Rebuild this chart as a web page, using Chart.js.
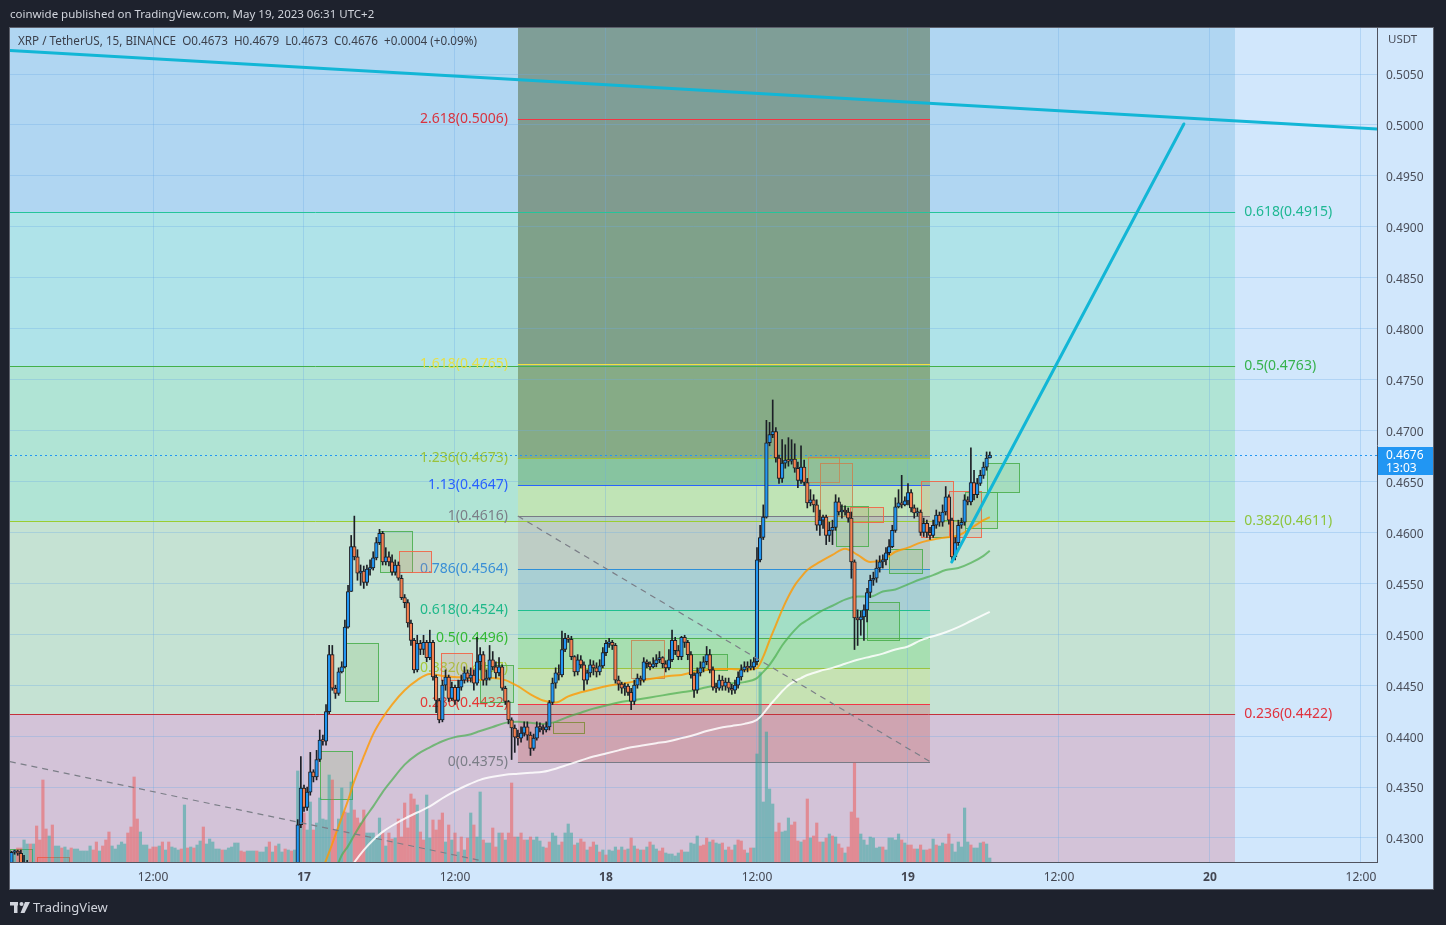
<!DOCTYPE html>
<html>
<head>
<meta charset="utf-8">
<title>XRP / TetherUS, 15, BINANCE</title>
<script src="https://cdn.jsdelivr.net/npm/chart.js@4.4.1/dist/chart.umd.min.js"></script>
<style>
  html, body { margin: 0; padding: 0; background: #1e222d; }
  #wrap { width: 1446px; height: 925px; }
</style>
</head>
<body>
<div id="wrap"><canvas id="chart" width="1446" height="925"></canvas></div>
<script>
// x = bar index, one bar per 15 minutes counted from 16 May 2023 00:00 (UTC+2)
const VIEW_START = 2.54;    // 16 May 00:38
const VIEW_END = 437.1;     // 20 May 13:16
const timeTicks = [48, 96, 144, 192, 240, 288, 336, 384, 432];
const timeLabels = ['12:00', '17', '12:00', '18', '12:00', '19', '12:00', '20', '12:00'];

const PRICE_MIN = 0.42764;
const PRICE_MAX = 0.50952;
const priceTicks = [0.4300, 0.4350, 0.4400, 0.4450, 0.4500, 0.4550, 0.4600, 0.4650,
  0.4700, 0.4750, 0.4800, 0.4850, 0.4900, 0.4950, 0.5000, 0.5050];

// a few bars of 16 May that peek in at the bottom left
const EARLY_START = 3;
const earlyOpens  = [0.4270, 0.4286, 0.4287, 0.4285, 0.4270, 0.4266, 0.4264];
const earlyHighs  = [0.4287, 0.4288, 0.4288, 0.4288, 0.4283, 0.4278, 0.4275];
const earlyLows   = [0.4268, 0.4284, 0.4283, 0.4265, 0.4262, 0.4260, 0.4258];
const earlyCloses = [0.4286, 0.4287, 0.4285, 0.4270, 0.4266, 0.4264, 0.4262];

// bars from 16 May 23:30 to 19 May 06:30
const CANDLE_START = 94;
const opens = [
  0.4259,0.4313,0.4349,0.4330,0.4345,0.4365,0.4360,0.4377,0.4396,0.4395,
  0.4424,0.4480,0.4447,0.4442,0.4463,0.4468,0.4507,0.4542,0.4586,0.4576,
  0.4560,0.4562,0.4551,0.4564,0.4565,0.4575,0.4590,0.4599,0.4571,0.4576,
  0.4571,0.4561,0.4568,0.4555,0.4536,0.4531,0.4511,0.4494,0.4465,0.4491,
  0.4485,0.4492,0.4477,0.4492,0.4458,0.4435,0.4416,0.4450,0.4458,0.4437,
  0.4448,0.4435,0.4448,0.4455,0.4462,0.4457,0.4460,0.4452,0.4473,0.4480,
  0.4455,0.4457,0.4475,0.4468,0.4462,0.4468,0.4447,0.4434,0.4416,0.4408,
  0.4399,0.4398,0.4403,0.4409,0.4401,0.4388,0.4398,0.4409,0.4408,0.4406,
  0.4409,0.4433,0.4452,0.4462,0.4460,0.4485,0.4496,0.4495,0.4478,0.4463,
  0.4475,0.4470,0.4455,0.4462,0.4470,0.4467,0.4463,0.4469,0.4482,0.4491,
  0.4492,0.4489,0.4455,0.4451,0.4447,0.4449,0.4443,0.4434,0.4450,0.4457,
  0.4455,0.4473,0.4471,0.4468,0.4471,0.4475,0.4477,0.4471,0.4467,0.4475,
  0.4494,0.4484,0.4478,0.4497,0.4492,0.4480,0.4460,0.4445,0.4462,0.4467,
  0.4473,0.4480,0.4465,0.4448,0.4447,0.4455,0.4449,0.4453,0.4447,0.4445,
  0.4450,0.4458,0.4465,0.4468,0.4467,0.4468,0.4473,0.4573,0.4595,0.4615,
  0.4688,0.4696,0.4699,0.4673,0.4653,0.4668,0.4671,0.4670,0.4672,0.4663,
  0.4651,0.4664,0.4649,0.4629,0.4632,0.4627,0.4607,0.4612,0.4615,0.4597,
  0.4602,0.4605,0.4630,0.4620,0.4622,0.4620,0.4614,0.4571,0.4516,0.4514,
  0.4517,0.4524,0.4541,0.4553,0.4555,0.4565,0.4571,0.4573,0.4580,0.4586,
  0.4602,0.4625,0.4629,0.4627,0.4631,0.4639,0.4624,0.4619,0.4620,0.4600,
  0.4609,0.4600,0.4597,0.4607,0.4617,0.4610,0.4620,0.4635,0.4612,0.4576,
  0.4590,0.4607,0.4610,0.4632,0.4630,0.4649,0.4637,0.4648,0.4656,0.4664,
  0.4673];
const highs = [
  0.4318,0.4380,0.4352,0.4350,0.4384,0.4367,0.4386,0.4406,0.4401,0.4431,
  0.4489,0.4489,0.4450,0.4467,0.4473,0.4514,0.4548,0.4597,0.4616,0.4583,
  0.4568,0.4567,0.4568,0.4573,0.4581,0.4595,0.4603,0.4601,0.4585,0.4581,
  0.4578,0.4573,0.4571,0.4558,0.4539,0.4534,0.4514,0.4496,0.4499,0.4494,
  0.4499,0.4494,0.4504,0.4494,0.4460,0.4437,0.4455,0.4465,0.4460,0.4453,
  0.4450,0.4455,0.4460,0.4468,0.4465,0.4467,0.4465,0.4497,0.4487,0.4483,
  0.4465,0.4489,0.4483,0.4473,0.4477,0.4470,0.4449,0.4435,0.4418,0.4411,
  0.4406,0.4409,0.4414,0.4414,0.4404,0.4402,0.4414,0.4413,0.4411,0.4414,
  0.4435,0.4457,0.4467,0.4470,0.4503,0.4501,0.4499,0.4498,0.4479,0.4480,
  0.4479,0.4473,0.4465,0.4475,0.4474,0.4472,0.4475,0.4487,0.4494,0.4496,
  0.4494,0.4491,0.4459,0.4453,0.4452,0.4451,0.4447,0.4455,0.4461,0.4459,
  0.4477,0.4475,0.4473,0.4477,0.4480,0.4483,0.4478,0.4474,0.4485,0.4504,
  0.4497,0.4489,0.4498,0.4499,0.4494,0.4483,0.4462,0.4467,0.4473,0.4478,
  0.4488,0.4485,0.4468,0.4452,0.4460,0.4459,0.4457,0.4457,0.4451,0.4455,
  0.4463,0.4470,0.4473,0.4473,0.4475,0.4477,0.4585,0.4607,0.4627,0.4710,
  0.4708,0.4730,0.4703,0.4676,0.4691,0.4686,0.4693,0.4691,0.4687,0.4669,
  0.4685,0.4671,0.4653,0.4642,0.4637,0.4632,0.4622,0.4617,0.4617,0.4610,
  0.4612,0.4637,0.4634,0.4627,0.4626,0.4624,0.4620,0.4573,0.4524,0.4523,
  0.4529,0.4545,0.4558,0.4561,0.4573,0.4577,0.4578,0.4585,0.4593,0.4607,
  0.4634,0.4642,0.4656,0.4635,0.4648,0.4642,0.4627,0.4624,0.4622,0.4614,
  0.4612,0.4605,0.4612,0.4622,0.4620,0.4627,0.4645,0.4637,0.4614,0.4595,
  0.4612,0.4614,0.4637,0.4635,0.4683,0.4661,0.4653,0.4661,0.4669,0.4679,
  0.4679];
const lows = [
  0.4259,0.4310,0.4326,0.4327,0.4342,0.4355,0.4357,0.4375,0.4391,0.4391,
  0.4422,0.4445,0.4437,0.4440,0.4462,0.4467,0.4506,0.4542,0.4573,0.4553,
  0.4548,0.4545,0.4548,0.4558,0.4563,0.4573,0.4588,0.4568,0.4568,0.4567,
  0.4558,0.4558,0.4553,0.4534,0.4526,0.4507,0.4489,0.4462,0.4463,0.4480,
  0.4480,0.4473,0.4475,0.4455,0.4423,0.4413,0.4414,0.4445,0.4434,0.4435,
  0.4431,0.4434,0.4445,0.4452,0.4453,0.4453,0.4445,0.4450,0.4465,0.4450,
  0.4450,0.4455,0.4465,0.4457,0.4459,0.4445,0.4431,0.4412,0.4377,0.4384,
  0.4391,0.4394,0.4400,0.4396,0.4381,0.4386,0.4396,0.4404,0.4402,0.4404,
  0.4406,0.4431,0.4447,0.4455,0.4458,0.4483,0.4492,0.4475,0.4459,0.4460,
  0.4467,0.4445,0.4451,0.4458,0.4460,0.4458,0.4460,0.4467,0.4479,0.4487,
  0.4485,0.4452,0.4445,0.4442,0.4440,0.4440,0.4426,0.4431,0.4447,0.4450,
  0.4453,0.4467,0.4465,0.4467,0.4468,0.4472,0.4467,0.4463,0.4465,0.4473,
  0.4480,0.4475,0.4475,0.4487,0.4475,0.4457,0.4438,0.4442,0.4459,0.4463,
  0.4470,0.4462,0.4445,0.4443,0.4445,0.4445,0.4445,0.4443,0.4441,0.4442,
  0.4447,0.4455,0.4463,0.4463,0.4465,0.4465,0.4470,0.4571,0.4593,0.4614,
  0.4685,0.4693,0.4669,0.4648,0.4649,0.4663,0.4665,0.4667,0.4659,0.4644,
  0.4648,0.4646,0.4624,0.4626,0.4620,0.4602,0.4597,0.4604,0.4588,0.4591,
  0.4588,0.4602,0.4617,0.4614,0.4617,0.4610,0.4555,0.4485,0.4489,0.4499,
  0.4494,0.4512,0.4536,0.4548,0.4551,0.4561,0.4565,0.4568,0.4578,0.4585,
  0.4600,0.4624,0.4624,0.4626,0.4627,0.4620,0.4614,0.4616,0.4597,0.4596,
  0.4595,0.4593,0.4595,0.4604,0.4606,0.4606,0.4617,0.4608,0.4571,0.4573,
  0.4587,0.4604,0.4607,0.4627,0.4627,0.4632,0.4634,0.4646,0.4653,0.4661,
  0.4673];
const closes = [
  0.4313,0.4349,0.4330,0.4345,0.4365,0.4360,0.4377,0.4396,0.4395,0.4424,
  0.4480,0.4447,0.4442,0.4463,0.4468,0.4507,0.4542,0.4586,0.4576,0.4560,
  0.4562,0.4551,0.4564,0.4565,0.4575,0.4590,0.4599,0.4571,0.4576,0.4571,
  0.4561,0.4568,0.4555,0.4536,0.4531,0.4511,0.4494,0.4465,0.4491,0.4485,
  0.4492,0.4477,0.4492,0.4458,0.4435,0.4416,0.4450,0.4458,0.4437,0.4448,
  0.4435,0.4448,0.4455,0.4462,0.4457,0.4460,0.4452,0.4473,0.4480,0.4455,
  0.4457,0.4475,0.4468,0.4462,0.4468,0.4447,0.4434,0.4416,0.4408,0.4399,
  0.4398,0.4403,0.4409,0.4401,0.4388,0.4398,0.4409,0.4408,0.4406,0.4409,
  0.4433,0.4452,0.4462,0.4460,0.4485,0.4496,0.4495,0.4478,0.4463,0.4475,
  0.4470,0.4455,0.4462,0.4470,0.4467,0.4463,0.4469,0.4482,0.4491,0.4492,
  0.4489,0.4455,0.4451,0.4447,0.4449,0.4443,0.4434,0.4450,0.4457,0.4455,
  0.4473,0.4471,0.4468,0.4471,0.4475,0.4477,0.4471,0.4467,0.4475,0.4494,
  0.4484,0.4478,0.4497,0.4492,0.4480,0.4460,0.4445,0.4462,0.4467,0.4473,
  0.4480,0.4465,0.4448,0.4447,0.4455,0.4449,0.4453,0.4447,0.4445,0.4450,
  0.4458,0.4465,0.4468,0.4467,0.4468,0.4473,0.4573,0.4595,0.4615,0.4688,
  0.4696,0.4699,0.4673,0.4653,0.4668,0.4671,0.4670,0.4672,0.4663,0.4651,
  0.4664,0.4649,0.4629,0.4632,0.4627,0.4607,0.4612,0.4615,0.4597,0.4602,
  0.4605,0.4630,0.4620,0.4622,0.4620,0.4614,0.4571,0.4516,0.4514,0.4517,
  0.4524,0.4541,0.4553,0.4555,0.4565,0.4571,0.4573,0.4580,0.4586,0.4602,
  0.4625,0.4629,0.4627,0.4631,0.4639,0.4624,0.4619,0.4620,0.4600,0.4609,
  0.4600,0.4597,0.4607,0.4617,0.4610,0.4620,0.4635,0.4612,0.4576,0.4590,
  0.4607,0.4610,0.4632,0.4630,0.4649,0.4637,0.4648,0.4656,0.4664,0.4673,
  0.4676];

// volume in millions of XRP per bar, and whether the bar closed up (u) or down (d)
const VOL_START = 3;
const VOL_MAX = 83.4;
const volumes = [
  1.0,1.2,1.4,1.4,2.2,1.8,1.8,1.8,3.6,2.2,
  8.2,3.3,2.6,3.7,1.6,1.6,1.4,1.5,1.2,1.4,
  1.3,1.3,1.1,1.1,1.1,1.6,1.2,2.0,1.1,1.6,
  2.2,3.0,1.6,1.3,1.7,2.0,1.8,2.9,3.5,8.5,
  4.3,3.0,1.7,1.7,1.3,1.5,1.5,1.6,2.0,1.2,
  2.0,1.5,1.4,1.2,1.3,5.7,1.4,1.5,1.4,1.7,
  2.1,3.5,1.8,2.3,2.0,1.3,1.3,1.2,1.2,1.4,
  1.5,1.9,1.9,1.1,1.0,1.1,1.1,1.1,1.1,1.0,
  1.0,1.5,2.0,1.0,1.6,1.8,1.0,1.3,1.2,1.1,
  1.2,9.1,7.5,4.9,3.2,6.0,3.2,3.9,6.4,4.3,
  4.2,8.7,8.2,3.2,4.3,7.4,5.0,4.9,8.0,5.2,
  4.4,3.9,5.2,2.9,2.9,2.9,2.4,4.4,2.9,1.6,
  2.9,2.3,2.4,4.3,2.5,5.9,3.4,6.8,6.3,5.7,
  3.0,2.2,6.7,2.4,4.2,3.2,4.2,4.9,2.0,3.7,
  2.2,2.9,1.0,2.5,1.2,2.4,4.9,3.7,2.5,7.0,
  2.2,1.9,1.9,3.4,1.5,2.9,2.9,2.2,2.9,7.9,
  2.5,2.5,2.9,2.2,2.2,2.5,2.2,2.5,2.1,1.5,
  1.4,2.0,2.9,2.6,1.7,2.0,2.9,3.8,2.9,1.7,
  1.9,2.3,2.0,1.2,1.5,2.0,1.7,1.0,1.2,0.7,
  1.2,1.1,1.5,1.2,1.5,1.2,1.3,2.4,1.6,1.3,
  1.2,1.2,1.5,2.0,1.7,1.3,1.1,1.4,0.9,0.8,
  0.8,0.6,0.9,1.2,1.0,1.0,1.9,1.8,2.6,1.6,
  1.7,2.4,2.0,2.2,1.9,1.8,1.9,1.2,1.5,1.2,
  1.7,2.2,2.1,1.2,0.9,1.4,1.4,10.8,19.0,6.0,
  13.0,7.3,5.8,3.0,3.9,3.0,3.1,4.4,3.7,4.0,
  2.1,2.0,2.2,6.3,2.4,2.6,3.9,2.0,2.0,2.4,
  2.8,2.6,2.5,1.8,1.4,0.9,1.5,5.0,9.9,4.4,
  2.8,2.2,1.7,2.5,2.4,1.4,1.5,1.5,1.2,2.4,
  2.4,2.2,2.8,2.2,1.9,1.7,1.7,1.3,1.3,1.7,
  1.2,1.2,1.3,2.3,1.7,1.6,1.9,1.8,2.8,1.8,
  1.0,2.0,1.5,5.4,2.0,1.7,1.4,1.4,1.9,2.0,
  1.8,0.4];
const volumeSide = [
  'uudduududd','dduduuduud','uuuuuuddud','dduuuuuddd','duuudddudu',
  'duuudududu','uduuuuuduu','uuudduuudu','uududuudud','uuuduuduuu',
  'uudduuduud','ddduuuuudu','dduddddddu','dduuddddud','ududududuu',
  'duuddududd','dudduduuuu','dduuuduuud','udduddudud','uuudududud',
  'ududuudduu','uuuduuuuud','dduduududd','uddduduuuu','uuudduuudd',
  'duddudddud','ududdudddd','uuuuuuuduu','uuududddud','udduduuddu',
  'uuuuuduuud','uu'].join('');

// moving averages, read at these bar indexes
const maBars = [100,104,106,108,110,112,115,118,121,124,
  128,132,136,140,144,148,152,156,160,164,168,172,176,180,184,188,192,196,200,204,
  208,212,216,220,224,228,232,236,
  240,242,244,246,248,250,252,254,256,
  260,264,268,272,276,280,284,288,292,296,300,304,308,312,314];
const maFast = [0.4255,0.4286,0.4303,0.4320,0.4337,0.4356,0.4380,0.4402,0.4418,0.4431,
  0.4445,0.4455,0.4461,0.4459,0.4458,0.4457,0.4455,0.4457,0.4455,0.4449,0.4441,0.4435,0.4433,0.4439,0.4443,0.4446,0.4449,0.4451,0.4453,0.4455,
  0.4457,0.4459,0.4460,0.4463,0.4465,0.4466,0.4466,0.4465,
  0.4467,0.4478,0.4494,0.4509,0.4524,0.4537,0.4548,0.4556,0.4563,
  0.4571,0.4578,0.4584,0.4578,0.4571,0.4573,0.4581,0.4585,0.4590,0.4593,0.4595,0.4597,0.4604,0.4612,0.4615];
const maMid = [null,0.4261,0.4269,0.4283,0.4292,0.4303,0.4318,0.4331,0.4345,0.4357,
  0.4372,0.4382,0.4389,0.4395,0.4399,0.4401,0.4405,0.4409,0.4413,0.4414,0.4413,0.4412,0.4414,0.4419,0.4423,0.4427,0.4430,0.4433,0.4435,0.4437,
  0.4439,0.4441,0.4443,0.4445,0.4448,0.4450,0.4452,0.4453,
  0.4457,0.4463,0.4470,0.4479,0.4489,0.4497,0.4504,0.4510,0.4514,
  0.4522,0.4528,0.4534,0.4537,0.4537,0.4542,0.4544,0.4549,0.4554,0.4558,0.4563,0.4565,0.4570,0.4577,0.4582];
const maSlow = [null,null,null,null,0.4267,0.4276,0.4288,0.4298,0.4306,0.4312,
  0.4319,0.4325,0.4331,0.4339,0.4346,0.4352,0.4357,0.4360,0.4362,0.4363,0.4364,0.4365,0.4368,0.4372,0.4376,0.4380,0.4383,0.4386,0.4389,0.4391,
  0.4393,0.4395,0.4398,0.4401,0.4405,0.4408,0.4410,0.4412,
  0.4416,0.4422,0.4430,0.4437,0.4444,0.4450,0.4454,0.4457,0.4460,
  0.4464,0.4467,0.4471,0.4475,0.4478,0.4481,0.4485,0.4488,0.4494,0.4498,0.4502,0.4507,0.4513,0.4519,0.4522];

// fib retracement (left, long) and fib extension (middle)
const retLevels = [0, 0.236, 0.382, 0.5, 0.618, 0.786];
const retPrices = [0.4119, 0.4422, 0.4611, 0.4763, 0.4915, 0.5131];
const retBars = [0, 392];
const extLevels = [0, 0.236, 0.382, 0.5, 0.618, 0.786, 1, 1.13, 1.236, 1.618, 2.618, 3.618];
const extPrices = [0.4375, 0.4432, 0.4467, 0.4496, 0.4524, 0.4564, 0.4616, 0.4647, 0.4673, 0.4765, 0.5006, 0.5247];
const extBars = [164, 295];

// drawn lines: [bar, price] at both ends
const resistanceLine = [[2.5, 0.5073], [437.1, 0.4996]];
const targetLine = [[301.9, 0.4571], [375.7, 0.5001]];
const oldTrendLine = [[2.5, 0.4375], [152, 0.4278]];
const extTrendLine = [[164, 0.4616], [295, 0.4375]];

// rectangles: first bar, last bar, top price, bottom price, kind
const boxes = [
  [101.1, 111.3, 0.4385, 0.4338, 'g'], [109.0, 119.5, 0.4491, 0.4434, 'g'],
  [120.2, 130.3, 0.4601, 0.4561, 'g'], [126.2, 136.4, 0.4582, 0.4561, 'r'],
  [139.5, 149.4, 0.4482, 0.4455, 'r'], [151.9, 162.4, 0.4470, 0.4433, 'g'],
  [175.1, 185.0, 0.4414, 0.4403, 'o'], [200.0, 210.4, 0.4494, 0.4457, 't'],
  [219.0, 230.4, 0.4481, 0.4465, 'g'], [256.2, 266.0, 0.4674, 0.4649, 't'],
  [260.0, 270.2, 0.4668, 0.4616, 't'], [265.0, 275.3, 0.4626, 0.4587, 'g'],
  [269.5, 280.0, 0.4625, 0.4610, 'r'], [275.0, 285.0, 0.4532, 0.4494, 'g'],
  [282.0, 292.4, 0.4584, 0.4560, 'g'], [292.1, 302.3, 0.4650, 0.4595, 'r'],
  [296.0, 306.1, 0.4612, 0.4595, 'g'], [301.0, 311.2, 0.4641, 0.4595, 'r'],
  [306.1, 316.3, 0.4640, 0.4604, 'g'], [313.1, 323.3, 0.4668, 0.4640, 'g'],
  [2.5, 9.5, 0.4289, 0.4260, 'g'], [11.1, 21.3, 0.4281, 0.4255, 'r'],
];

const lastPrice = 0.4676;
const barCountdown = '13:03';
const publishedText = 'coinwide published on TradingView.com, May 19, 2023 06:31 UTC+2';
const legendText = 'XRP / TetherUS, 15, BINANCE  O0.4673  H0.4679  L0.4673  C0.4676  +0.0004 (+0.09%)';

// ---- styles ----
const FONT = '"Noto Sans", "Open Sans", sans-serif';
const FRAME_BG = '#1e222d';
const PANEL_BG = '#d1e7fc';
const UP = '#2196f3', DOWN = '#f5804f', CANDLE_EDGE = '#1c1f26';
const VOL_UP = 'rgba(38,166,154,0.5)', VOL_DOWN = 'rgba(239,83,80,0.5)';
const GRID = 'rgba(110,170,230,0.32)';
const RET_FILL = ['#d3c3d8', '#c5e2d3', '#b0e4d5', '#afe3e9', '#b0d6f2'];
const RET_LINE = ['#787b86', '#c4313b', '#9acd32', '#43b04a', '#25c49a', '#2196f3'];
const RET_TEXT = ['#787b86', '#e0323e', '#8dc53e', '#37b24d', '#1fb893', '#2196f3'];
const EXT_FILL = ['rgba(203,133,138,0.5)', 'rgba(199,226,147,0.5)', 'rgba(137,220,143,0.5)',
  'rgba(129,220,185,0.5)', 'rgba(141,188,211,0.5)', 'rgba(183,184,183,0.5)', 'rgba(208,228,151,0.5)',
  'rgba(94,164,107,0.5)', 'rgba(92,114,55,0.5)', 'rgba(80,95,44,0.5)', 'rgba(78,102,60,0.5)'];
const EXT_LINE = ['#787b86', '#f23645', '#9bc43e', '#4caf50', '#1fbf8f', '#2e8fd8', '#787b86',
  '#2962ff', '#a0c43a', '#f0e040', '#f23645', '#9c27b0'];
const EXT_TEXT = ['#7b7e87', '#e53935', '#a5c93a', '#33b833', '#1fb88a', '#3a8fd6', '#7b7e87',
  '#2962ff', '#9ac23c', '#e6e04a', '#d8333f', '#9c27b0'];
const BOX_STYLE = {
  g: ['rgba(76,175,80,0.9)', 'rgba(120,190,90,0.18)'],
  r: ['rgba(242,100,70,0.9)', 'rgba(220,130,110,0.18)'],
  t: ['rgba(200,130,80,0.85)', 'rgba(190,170,120,0.18)'],
  o: ['rgba(130,140,60,0.9)', 'rgba(180,170,110,0.15)'],
};

// ---- datasets ----
const cX = [], cO = [], cH = [], cL = [], cC = [];
earlyCloses.forEach((c, i) => {
  cX.push(EARLY_START + i); cO.push(earlyOpens[i]); cH.push(earlyHighs[i]); cL.push(earlyLows[i]); cC.push(c);
});
closes.forEach((c, i) => {
  cX.push(CANDLE_START + i); cO.push(opens[i]); cH.push(highs[i]); cL.push(lows[i]); cC.push(c);
});

const toPts = seg => seg.map(p => ({ x: p[0], y: p[1] }));
const maPts = vals => maBars.map((b, i) => ({ x: b, y: vals[i] })).filter(p => p.y !== null);

const datasets = [
  { type: 'line', data: toPts(resistanceLine), borderColor: '#12b6d6', borderWidth: 3, pointRadius: 0, order: 0 },
  { type: 'line', data: toPts(targetLine), borderColor: '#12b6d6', borderWidth: 3, pointRadius: 0, order: 0, borderCapStyle: 'round' },
  { type: 'line', data: toPts(oldTrendLine), borderColor: '#7b7e87', borderWidth: 1.2, borderDash: [6, 5], pointRadius: 0, order: 1 },
  { type: 'line', data: toPts(extTrendLine), borderColor: '#7b7e87', borderWidth: 1.2, borderDash: [6, 5], pointRadius: 0, order: 1 },
  { type: 'bar', data: cX.map((x, i) => ({ x, y: [cO[i], cC[i]] })),
    backgroundColor: cC.map((c, i) => c >= cO[i] ? UP : DOWN), borderColor: CANDLE_EDGE, borderWidth: 1,
    borderSkipped: false, barThickness: 3.6, minBarLength: 1.5, grouped: false, order: 2 },
  { type: 'bar', data: cX.map((x, i) => ({ x, y: [cL[i], cH[i]] })),
    backgroundColor: CANDLE_EDGE, barThickness: 1, grouped: false, order: 3 },
  { type: 'line', data: maPts(maSlow), borderColor: 'rgba(255,255,255,0.85)', borderWidth: 2, pointRadius: 0, cubicInterpolationMode: 'monotone', order: 4 },
  { type: 'line', data: maPts(maMid), borderColor: 'rgba(76,175,80,0.7)', borderWidth: 2, pointRadius: 0, cubicInterpolationMode: 'monotone', order: 4 },
  { type: 'line', data: maPts(maFast), borderColor: 'rgba(255,152,0,0.8)', borderWidth: 2, pointRadius: 0, cubicInterpolationMode: 'monotone', order: 4 },
  { type: 'bar', yAxisID: 'yv', data: volumes.map((v, i) => ({ x: VOL_START + i, y: v })),
    backgroundColor: volumes.map((v, i) => volumeSide[i] === 'd' ? VOL_DOWN : VOL_UP),
    barThickness: 2.5, grouped: false, order: 5 },
];

// ---- drawing helpers ----
function hLine(ctx, x0, x1, py, color) {
  ctx.strokeStyle = color;
  ctx.lineWidth = 1;
  const yy = Math.round(py) + 0.5;
  ctx.beginPath(); ctx.moveTo(x0, yy); ctx.lineTo(x1, yy); ctx.stroke();
}
function fillBand(ctx, x0, x1, yTop, yBot, color) {
  ctx.fillStyle = color;
  const t = Math.round(yTop), b = Math.round(yBot);
  ctx.fillRect(Math.round(x0), t, Math.round(x1) - Math.round(x0), b - t);
}
function clipArea(ctx, a) {
  ctx.beginPath(); ctx.rect(a.left, a.top, a.right - a.left, a.bottom - a.top); ctx.clip();
}

const backgroundPlugin = {
  id: 'background',
  beforeDraw(chart) {
    const { ctx, chartArea: a, scales: { x, y } } = chart;
    ctx.save();
    ctx.fillStyle = FRAME_BG;
    ctx.fillRect(0, 0, chart.width, chart.height);
    ctx.fillStyle = PANEL_BG;
    ctx.fillRect(a.left, a.top, y.right - a.left, x.bottom - a.top);
    clipArea(ctx, a);
    const rx0 = x.getPixelForValue(retBars[0]), rx1 = x.getPixelForValue(retBars[1]);
    for (let i = 0; i < retPrices.length - 1; i++) {
      fillBand(ctx, rx0, rx1, y.getPixelForValue(retPrices[i + 1]), y.getPixelForValue(retPrices[i]), RET_FILL[i]);
    }
    const ex0 = x.getPixelForValue(extBars[0]), ex1 = x.getPixelForValue(extBars[1]);
    for (let i = 0; i < extPrices.length - 1; i++) {
      fillBand(ctx, ex0, ex1, y.getPixelForValue(extPrices[i + 1]), y.getPixelForValue(extPrices[i]), EXT_FILL[i]);
    }
    ctx.restore();
  }
};

const drawingsPlugin = {
  id: 'drawings',
  beforeDatasetsDraw(chart) {
    const { ctx, chartArea: a, scales: { x, y } } = chart;
    ctx.save();
    clipArea(ctx, a);
    ctx.font = '14px ' + FONT;
    ctx.textBaseline = 'middle';

    const rx0 = x.getPixelForValue(retBars[0]), rx1 = x.getPixelForValue(retBars[1]);
    ctx.textAlign = 'left';
    retLevels.forEach((lv, i) => {
      const py = y.getPixelForValue(retPrices[i]);
      hLine(ctx, rx0, rx1, py, RET_LINE[i]);
      ctx.fillStyle = RET_TEXT[i];
      ctx.fillText(lv + '(' + retPrices[i].toFixed(4) + ')', rx1 + 9, py);
    });

    const ex0 = x.getPixelForValue(extBars[0]), ex1 = x.getPixelForValue(extBars[1]);
    ctx.textAlign = 'right';
    extLevels.forEach((lv, i) => {
      const py = y.getPixelForValue(extPrices[i]);
      hLine(ctx, ex0, ex1, py, EXT_LINE[i]);
      ctx.fillStyle = EXT_TEXT[i];
      ctx.fillText(lv + '(' + extPrices[i].toFixed(4) + ')', ex0 - 10, py);
    });

    boxes.forEach(([b0, b1, pTop, pBot, kind]) => {
      const x0 = Math.round(x.getPixelForValue(b0)) + 0.5, x1 = Math.round(x.getPixelForValue(b1)) + 0.5;
      const y0 = Math.round(y.getPixelForValue(pTop)) + 0.5, y1 = Math.round(y.getPixelForValue(pBot)) + 0.5;
      ctx.fillStyle = BOX_STYLE[kind][1];
      ctx.fillRect(x0, y0, x1 - x0, y1 - y0);
      ctx.strokeStyle = BOX_STYLE[kind][0];
      ctx.lineWidth = 1;
      ctx.strokeRect(x0, y0, x1 - x0, y1 - y0);
    });

    // last price line
    ctx.setLineDash([2, 3]);
    hLine(ctx, a.left, a.right, y.getPixelForValue(lastPrice), '#2196f3');
    ctx.setLineDash([]);
    ctx.restore();
  }
};

const framePlugin = {
  id: 'frame',
  afterDraw(chart) {
    const { ctx, chartArea: a, scales: { x, y } } = chart;
    ctx.save();
    ctx.strokeStyle = '#5d606b';
    ctx.lineWidth = 1;
    ctx.strokeRect(a.left - 0.5, a.top - 0.5, y.right - a.left + 1, x.bottom - a.top + 1);

    ctx.textBaseline = 'middle';
    ctx.textAlign = 'left';
    ctx.fillStyle = '#d1d4dc';
    ctx.font = '11.5px ' + FONT;
    ctx.fillText(publishedText, a.left, 15);

    ctx.fillStyle = '#3b3f4a';
    ctx.font = '11.7px ' + FONT;
    ctx.fillText(legendText, a.left + 8, a.top + 14);

    ctx.fillStyle = '#4a4e59';
    ctx.font = '11.5px ' + FONT;
    ctx.fillText('USDT', a.right + 11, a.top + 12);

    // last price tag on the axis
    const py = y.getPixelForValue(lastPrice);
    ctx.fillStyle = '#2196f3';
    ctx.fillRect(a.right + 1, Math.round(py) - 8, y.right - a.right - 1, 28);
    ctx.fillStyle = '#ffffff';
    ctx.font = '12px ' + FONT;
    ctx.fillText(lastPrice.toFixed(4), a.right + 9, py + 1);
    ctx.fillText(barCountdown, a.right + 9, py + 14);

    // TradingView mark
    const lx = a.left, ly = x.bottom + 13;
    ctx.fillStyle = '#d1d4dc';
    ctx.fillRect(lx, ly, 8, 3.5);
    ctx.fillRect(lx + 4, ly, 3.5, 11);
    ctx.beginPath(); ctx.arc(lx + 11.5, ly + 2, 2, 0, Math.PI * 2); ctx.fill();
    ctx.beginPath();
    ctx.moveTo(lx + 15, ly); ctx.lineTo(lx + 20, ly); ctx.lineTo(lx + 14.5, ly + 11); ctx.lineTo(lx + 10.5, ly + 11);
    ctx.closePath(); ctx.fill();
    ctx.font = '13px ' + FONT;
    ctx.fillText('TradingView', lx + 23, ly + 6);
    ctx.restore();
  }
};

Chart.defaults.font.family = FONT;

new Chart(document.getElementById('chart'), {
  type: 'bar',
  data: { datasets },
  options: {
    responsive: false,
    animation: false,
    devicePixelRatio: 1,
    events: [],
    layout: { padding: { left: 10, top: 28, right: 13, bottom: 36 } },
    plugins: { legend: { display: false }, tooltip: { enabled: false } },
    scales: {
      x: {
        type: 'linear', min: VIEW_START, max: VIEW_END, offset: false,
        afterBuildTicks: s => { s.ticks = timeTicks.map(v => ({ value: v })); },
        afterFit: s => { s.height = 27; },
        grid: { color: GRID, drawTicks: false, offset: false },
        border: { color: '#50535e' },
        ticks: {
          autoSkip: false, maxRotation: 0, padding: 8, color: '#434651',
          callback: (v, i) => timeLabels[i],
          font: c => ({ size: 12, weight: /^\d+$/.test(timeLabels[c.index]) ? 'bold' : 'normal' }),
        },
      },
      y: {
        position: 'right', min: PRICE_MIN, max: PRICE_MAX,
        afterBuildTicks: s => { s.ticks = priceTicks.map(v => ({ value: v })); },
        afterFit: s => { s.width = 56; },
        grid: { color: GRID, drawTicks: false },
        border: { color: '#50535e' },
        ticks: { padding: 9, labelOffset: 2, color: '#4a4e59', font: { size: 12 }, callback: v => v.toFixed(4) },
      },
      yv: { display: false, min: 0, max: VOL_MAX },
    },
  },
  plugins: [backgroundPlugin, drawingsPlugin, framePlugin],
});
</script>
</body>
</html>
